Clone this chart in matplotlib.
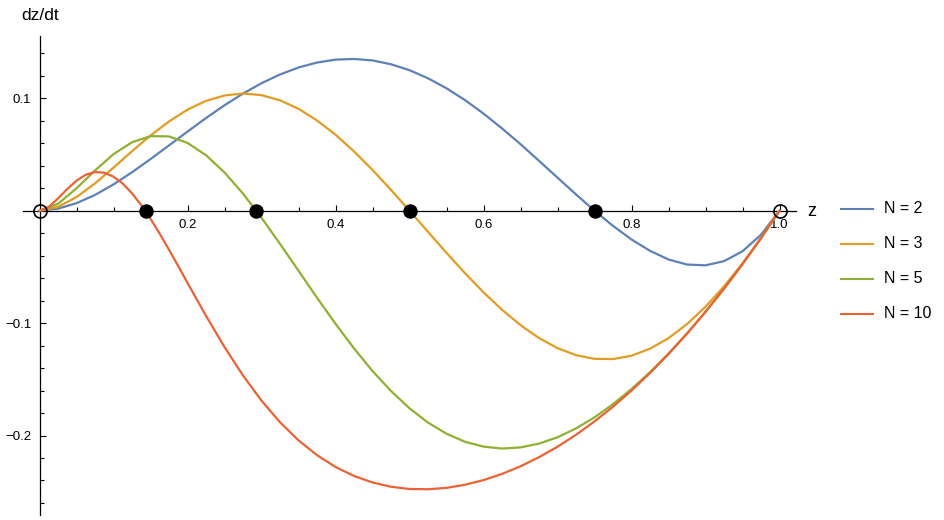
import matplotlib
matplotlib.use("Agg")
import matplotlib.pyplot as plt
import numpy as np
from matplotlib.ticker import FixedLocator
from matplotlib.lines import Line2D

plt.rcParams['font.family'] = ['Liberation Sans', 'DejaVu Sans']

# ---- data ----
z_grid = [i / 40 for i in range(41)]  # z = 0, 0.025, ..., 1.0

dzdt_n2 = [0, 0.0018, 0.0067, 0.0140, 0.0234, 0.0342, 0.0459, 0.0581, 0.0704, 0.0824,
           0.0938, 0.1042, 0.1134, 0.1212, 0.1274, 0.1318, 0.1344, 0.1350, 0.1337, 0.1303,
           0.1250, 0.1178, 0.1089, 0.0984, 0.0864, 0.0732, 0.0592, 0.0444, 0.0294, 0.0145,
           0, -0.0135, -0.0256, -0.0357, -0.0434, -0.0479, -0.0486, -0.0449, -0.0361, -0.0214, 0]

dzdt_n3 = [0, 0.0034, 0.0121, 0.0243, 0.0383, 0.0529, 0.0669, 0.0794, 0.0899, 0.0977,
           0.1025, 0.1043, 0.1028, 0.0982, 0.0907, 0.0803, 0.0676, 0.0528, 0.0363, 0.0185,
           0, -0.0188, -0.0375, -0.0556, -0.0726, -0.0881, -0.1018, -0.1133, -0.1223, -0.1285,
           -0.1318, -0.1320, -0.1290, -0.1228, -0.1134, -0.1009, -0.0855, -0.0674, -0.0469, -0.0243, 0]

dzdt_n5 = [0, 0.0061, 0.0199, 0.0358, 0.0503, 0.0609, 0.0663, 0.0661, 0.0603, 0.0494,
           0.0340, 0.0152, -0.0063, -0.0295, -0.0534, -0.0774, -0.1006, -0.1225, -0.1426, -0.1604,
           -0.1758, -0.1885, -0.1984, -0.2056, -0.2099, -0.2116, -0.2106, -0.2072, -0.2016, -0.1937,
           -0.1839, -0.1721, -0.1587, -0.1437, -0.1272, -0.1092, -0.0900, -0.0694, -0.0475, -0.0244, 0]

z_n10 = [0, 0.0125, 0.025, 0.0375, 0.05, 0.0625, 0.075, 0.0875, 0.1, 0.1125, 0.125, 0.1375,
         0.15, 0.1625, 0.175, 0.1875, 0.2, 0.225, 0.25, 0.275, 0.3, 0.325, 0.35, 0.375, 0.4,
         0.425, 0.45, 0.475, 0.5, 0.525, 0.55, 0.575, 0.6, 0.625, 0.65, 0.675, 0.7, 0.725, 0.75,
         0.775, 0.8, 0.825, 0.85, 0.875, 0.9, 0.925, 0.95, 0.975, 1.0]
dzdt_n10 = [0, 0.0034, 0.0109, 0.0193, 0.0267, 0.0320, 0.0344, 0.0338, 0.0303, 0.0241, 0.0155, 0.0049,
            -0.0072, -0.0205, -0.0347, -0.0493, -0.0642, -0.0935, -0.1213, -0.1466, -0.1690, -0.1882,
            -0.2043, -0.2175, -0.2280, -0.2360, -0.2418, -0.2456, -0.2476, -0.2478, -0.2466, -0.2438,
            -0.2397, -0.2342, -0.2274, -0.2193, -0.2100, -0.1994, -0.1875, -0.1744, -0.1600, -0.1444,
            -0.1275, -0.1094, -0.0900, -0.0694, -0.0475, -0.0244, 0]

series_labels = ['N = 2', 'N = 3', 'N = 5', 'N = 10']
series_x = [z_grid, z_grid, z_grid, z_n10]
series_y = [dzdt_n2, dzdt_n3, dzdt_n5, dzdt_n10]
colors = ['#5E81B5', '#E19C24', '#8FB032', '#EB6235']

stable_z = [0.1439, 0.2925, 0.5, 0.75]
unstable_z = [0.0, 1.0]

xtick_vals = [0.2, 0.4, 0.6, 0.8, 1.0]
xtick_labels = ['0.2', '0.4', '0.6', '0.8', '1.0']
ytick_vals = [-0.2, -0.1, 0.1]
ytick_labels = ['\u22120.2', '\u22120.1', '0.1']

# ---- layout (pixel geometry of the reference) ----
W, H = 945, 520
fig = plt.figure(figsize=(W / 100, H / 100), dpi=100)
L, R, T, B = 23, 796, 36, 515
ax = fig.add_axes([L / W, 1 - B / H, (R - L) / W, (B - T) / H])
x0px, xs = 39.5, 740.0
y0px, ys = 210.7, 1124.0
ax.set_xlim((L - x0px) / xs, (R - x0px) / xs)
ax.set_ylim((y0px - B) / ys, (y0px - T) / ys)

for side in ['top', 'right']:
    ax.spines[side].set_visible(False)
ax.spines['left'].set_position(('data', 0))
ax.spines['bottom'].set_position(('data', 0))
for side in ['left', 'bottom']:
    ax.spines[side].set_linewidth(0.9)
    ax.spines[side].set_color('black')

ax.xaxis.set_major_locator(FixedLocator(xtick_vals))
ax.set_xticklabels(xtick_labels)
ax.xaxis.set_minor_locator(FixedLocator([v for v in np.arange(0.05, 1.0, 0.05)
                                         if abs(v / 0.2 - round(v / 0.2)) > 1e-6]))
ax.yaxis.set_major_locator(FixedLocator(ytick_vals))
ax.set_yticklabels(ytick_labels)
ax.yaxis.set_minor_locator(FixedLocator([v for v in np.arange(-0.26, 0.15, 0.02)
                                         if abs(v) > 1e-6 and abs(v / 0.1 - round(v / 0.1)) > 1e-6]))
ax.tick_params(which='both', direction='in', colors='black', width=0.8, labelsize=9.5)
ax.tick_params(which='major', length=4.3, pad=6.0)
ax.tick_params(which='minor', length=2.8)

for xs_, ys_, c in zip(series_x, series_y, colors):
    ax.plot(xs_, ys_, color=c, lw=1.6, clip_on=False, zorder=3,
            solid_joinstyle='round', solid_capstyle='round')

ax.plot(stable_z, [0] * len(stable_z), 'o', ms=9.4, color='black', zorder=5, clip_on=False)
ax.plot(unstable_z, [0] * len(unstable_z), 'o', ms=9.4, mfc='none', mec='black', mew=1.2,
        zorder=5, clip_on=False)

fig.text(812 / W, 1 - 211.5 / H, 'z', ha='center', va='center', fontsize=13)
fig.text(40 / W, 1 - 16 / H, 'dz/dt', ha='center', va='center', fontsize=12.5)

for i, (lab, c) in enumerate(zip(series_labels, colors)):
    yy = 1 - (208.5 + 35 * i) / H
    fig.add_artist(Line2D([841 / W, 873 / W], [yy, yy], transform=fig.transFigure,
                          color=c, lw=1.5))
    fig.text(884 / W, yy, lab, ha='left', va='center', fontsize=11.5)

fig.savefig('out.png', dpi=100)
